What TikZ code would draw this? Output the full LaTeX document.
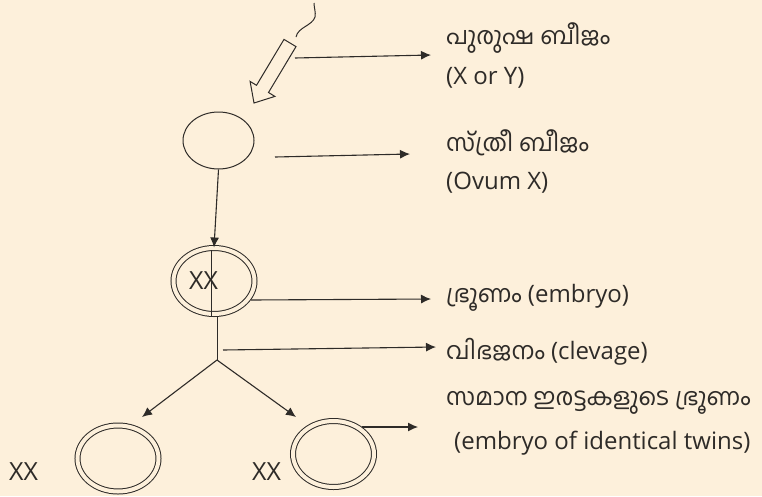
\documentclass[tikz,border=0pt]{standalone}
\usepackage{fontspec}
\setmainfont{Open Sans}
\newfontfamily\mlf[Script=Malayalam]{Hind Kochi}
\newcommand\ml{\fontsize{24}{28}\mlf}
\usetikzlibrary{shapes.geometric,arrows.meta}
\definecolor{bgc}{HTML}{FDF0DB}
\definecolor{ink}{HTML}{2E2B28}
\tikzset{
  ln/.style={draw=ink, line width=1.1pt},
  arr/.style={ln, -{Latex[length=10pt,width=9pt]}},
  cell/.style={ellipse, draw=ink, line width=1pt, inner sep=0pt},
  dcell/.style={cell, double=bgc, double distance=4pt, minimum width=81pt, minimum height=66pt},
  lbl/.style={anchor=west, inner sep=0pt, text=ink, font=\fontsize{24}{26}\selectfont},
}
\begin{document}
\begin{tikzpicture}[x=1pt,y=-1pt]
\fill[bgc] (0,0) rectangle (762,496);
\useasboundingbox (0,0) rectangle (762,496);

% sperm
\draw[ln, line width=1pt] (296,37) .. controls (298,27) and (312,26) .. (315,17) .. controls (316,12) and (314,8) .. (314,3);
\draw[ln, line width=1pt, line join=miter] (284,39.4) -- (256.5,85.3) -- (250.1,81.4) -- (254,103) -- (274.9,96.4) -- (268.5,92.5) -- (296,46.6) -- cycle;

% cells
\node[cell, minimum width=71pt, minimum height=57pt] (ovum) at (218.5,140.5) {};
\node[dcell] (zyg) at (214,281) {};
\node[dcell] (t1) at (118,458.5) {};
\node[dcell] (t2) at (333.5,454) {};
\node[lbl, font=\fontsize{25}{26}\selectfont] (zx) at (189,281) {XX};
\node[lbl, font=\fontsize{25}{26}\selectfont] (x1) at (9,472) {XX};
\node[lbl, font=\fontsize{25}{26}\selectfont] (x2) at (252,472) {XX};

% labels
\node[lbl] (m1) at (446,38) {\ml പുരുഷ ബീജം};
\node[lbl] (m1b) at (446,78) {(X or Y)};
\node[lbl] (m2) at (446,143) {\ml സ്ത്രീ ബീജം};
\node[lbl] (m2b) at (446,183) {(Ovum X)};
\node[lbl] (m3) at (446,298) {{\ml ഭ്രൂണം} (embryo)};
\node[lbl] (m4) at (446,352) {{\ml വിഭജനം} (clevage)};
\node[lbl] (m5) at (446,403) {\ml സമാന ഇരട്ടകളുടെ ഭ്രൂണം};
\node[lbl] (m5b) at (454,443) {(embryo of identical twins)};

% connectors
\coordinate (s1) at (295,58);
\coordinate (e1) at (431,55);
\draw[arr] (s1) -- (e1);
\coordinate (s2) at (275,157);
\coordinate (e2) at (410,154);
\draw[arr] (s2) -- (e2);
\draw[arr] (ovum.south) -- (zyg.north);
\draw[ln, line width=1pt] (211,250) -- (211,317);
\coordinate (br) at (217,360);
\draw[ln, line width=1pt] (217,317) -- (br);
\coordinate (s3) at (251,300);
\coordinate (e3) at (431,299);
\draw[arr] (s3) -- (e3);
\coordinate (s4) at (223,350);
\coordinate (e4) at (436,347);
\draw[arr] (s4) -- (e4);
\coordinate (a1) at (142,417);
\coordinate (a2) at (296,417);
\draw[arr] (br) -- (a1);
\draw[arr] (br) -- (a2);
\coordinate (s5) at (362,427);
\coordinate (e5) at (418,427);
\draw[arr] (s5) -- (e5);
\end{tikzpicture}
\end{document}
